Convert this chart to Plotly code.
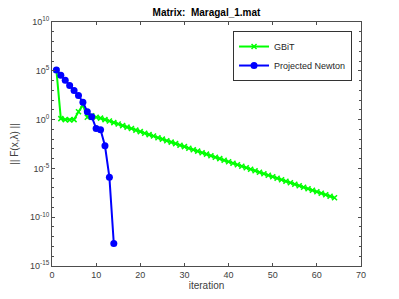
import plotly.graph_objects as go

# log10 of ||F(x,lambda)||, per iteration
gbit_iter = list(range(1, 65))
gbit_log = [5.05, 0.10, 0.00, -0.03, 0.00, 0.80, 1.50, 0.25, 0.40, 0.25,
            0.15, 0.00, -0.15, -0.31, -0.46, -0.62, -0.77, -0.92, -1.08, -1.23,
            -1.39, -1.54, -1.69, -1.85, -2.00, -2.16, -2.31, -2.46, -2.62, -2.77,
            -2.93, -3.08, -3.23, -3.39, -3.54, -3.70, -3.85, -4.00, -4.16, -4.31,
            -4.47, -4.62, -4.77, -4.93, -5.08, -5.24, -5.39, -5.54, -5.70, -5.85,
            -6.01, -6.16, -6.31, -6.47, -6.62, -6.78, -6.93, -7.08, -7.24, -7.39,
            -7.55, -7.70, -7.85, -8.01]

newton_iter = list(range(1, 15))
newton_log = [5.08, 4.55, 4.03, 3.50, 2.98, 2.47, 1.78, 0.80, 0.30, -0.90,
              -1.05, -2.68, -5.90, -12.70]

y_tick_exp = [10, 5, 0, -5, -10, -15]
x_ticks = [0, 10, 20, 30, 40, 50, 60, 70]

font = "Liberation Sans, Arial, sans-serif"
axis_col = "#4d4d4d"

fig = go.Figure()

fig.add_trace(go.Scatter(
    x=gbit_iter, y=[10 ** v for v in gbit_log],
    mode='lines+markers', name='GBiT',
    line=dict(color='#00ff00', width=2),
    marker=dict(symbol='x-thin', size=5, color='#00ff00',
                line=dict(color='#00ff00', width=1.5))
))

fig.add_trace(go.Scatter(
    x=newton_iter, y=[10 ** v for v in newton_log],
    mode='lines+markers', name='Projected Newton',
    line=dict(color='#0000ff', width=2),
    marker=dict(symbol='circle', size=7, color='#0000ff')
))

# page body has an 8px margin, so the figure is a bit smaller than the window
fig.update_layout(
    width=391, height=291,
    margin=dict(l=44, r=38, t=14, b=33),
    paper_bgcolor='white', plot_bgcolor='white',
    font=dict(family=font, size=9, color='#404040'),
    title=dict(text='<b>Matrix:  Maragal_1.mat</b>', xref='paper', x=0.5,
               xanchor='center', y=0.986, yanchor='middle',
               font=dict(size=10, color='black')),
    legend=dict(x=0.971, y=0.963, xanchor='right', yanchor='top',
                bgcolor='white', bordercolor='#333333', borderwidth=1,
                font=dict(size=9, color='#262626'),
                itemwidth=30, tracegroupgap=0),
    showlegend=True,
)

fig.update_xaxes(
    range=[0, 70], tickvals=x_ticks, automargin=False,
    ticks='inside', ticklen=3, tickcolor=axis_col,
    showline=True, linecolor=axis_col, linewidth=1, mirror='ticks',
    showgrid=False, zeroline=False,
    title=dict(text='iteration', standoff=3, font=dict(size=10)),
)

minor_vals = [10.0 ** e for e in range(-15, 11)]
fig.update_yaxes(
    type='log', range=[-15, 10], automargin=False,
    tickvals=[10.0 ** e for e in y_tick_exp],
    ticktext=['10<sup>%d</sup>' % e for e in y_tick_exp],
    ticks='inside', ticklen=3, tickcolor=axis_col,
    minor=dict(tickvals=minor_vals, ticks='inside', ticklen=2, tickcolor=axis_col),
    showline=True, linecolor=axis_col, linewidth=1, mirror='ticks',
    showgrid=False, zeroline=False,
    title=dict(text='|| F(x,λ) ||', standoff=9, font=dict(size=10)),
)

fig.write_html("out.html")
